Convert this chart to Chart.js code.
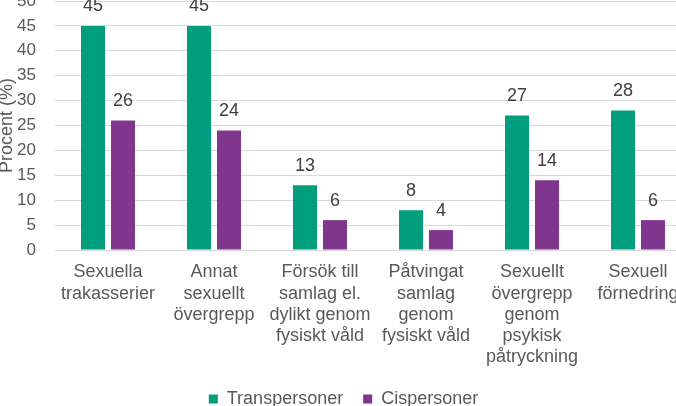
<!DOCTYPE html>
<html>
<head>
<meta charset="utf-8">
<script src="https://cdn.jsdelivr.net/npm/chart.js@4/dist/chart.umd.min.js"></script>
<style>
  html, body { margin: 0; padding: 0; background: #fff; overflow: hidden; }
  #wrap { position: relative; width: 676px; height: 406px; overflow: hidden; }
  #grafico { position: absolute; left: -4px; top: -10px; }
</style>
</head>
<body>
<div id="wrap"><canvas id="grafico" width="700" height="428"></canvas></div>
<script>
const categorias = [
    ["Sexuella", "trakasserier"],
    ["Annat", "sexuellt", "övergrepp"],
    ["Försök till", "samlag el.", "dylikt genom", "fysiskt våld"],
    ["Påtvingat", "samlag", "genom", "fysiskt våld"],
    ["Sexuellt", "övergrepp", "genom", "psykisk", "påtryckning"],
    ["Sexuell", "förnedring"]
];
const trans = [45, 45, 13, 8, 27, 28];
const cis = [26, 24, 6, 4, 14, 6];

const fonte = "'Liberation Sans', Arial, sans-serif";
const cinza = "#595959";

// valores em cima das barras
const rotulos = {
    id: "rotulos",
    afterDatasetsDraw(chart) {
        const ctx = chart.ctx;
        ctx.save();
        ctx.font = "18px " + fonte;
        ctx.fillStyle = "#404040";
        ctx.textAlign = "center";
        ctx.textBaseline = "middle";
        chart.data.datasets.forEach((ds, i) => {
            chart.getDatasetMeta(i).data.forEach((bar, j) => {
                ctx.fillText(ds.data[j], bar.x, bar.y - 19.5);
            });
        });
        ctx.restore();
    }
};

const ctx = document.getElementById("grafico").getContext("2d");
const chart = new Chart(ctx, {
    type: "bar",
    data: {
        labels: categorias,
        datasets: [
            {
                label: "Transpersoner",
                data: trans,
                backgroundColor: "#009E7D",
                categoryPercentage: 0.566,
                barPercentage: 0.8
            },
            {
                label: "Cispersoner",
                data: cis,
                backgroundColor: "#80368C",
                categoryPercentage: 0.566,
                barPercentage: 0.8
            }
        ]
    },
    options: {
        responsive: false,
        animation: false,
        layout: { padding: { top: 11, right: 5, left: 0, bottom: 0 } },
        plugins: {
            tooltip: { enabled: false },
            legend: {
                position: "bottom",
                labels: {
                    boxWidth: 9,
                    boxHeight: 9,
                    padding: 20,
                    color: cinza,
                    font: { family: fonte, size: 18 }
                }
            }
        },
        scales: {
            x: {
                grid: { display: false, drawTicks: false },
                border: { display: true, color: "#d9d9d9" },
                ticks: {
                    color: cinza,
                    font: { family: fonte, size: 18, lineHeight: 1.17 },
                    padding: 12,
                    maxRotation: 0,
                    minRotation: 0,
                    autoSkip: false
                },
                afterFit(scale) { scale.height = 120; }
            },
            y: {
                min: 0,
                max: 50,
                grid: { color: "#d9d9d9", drawTicks: false },
                border: { display: false },
                ticks: {
                    stepSize: 5,
                    autoSkip: false,
                    color: cinza,
                    font: { family: fonte, size: 17, lineHeight: 1.2 },
                    padding: 19
                },
                title: {
                    display: true,
                    text: "Procent (%)",
                    color: cinza,
                    font: { family: fonte, size: 18, lineHeight: 1.2 },
                    padding: 0
                },
                afterFit(scale) {
                    scale.width = 59;
                    scale.paddingTop = 0;
                    scale.paddingBottom = 0;
                }
            }
        }
    },
    plugins: [rotulos]
});
</script>
</body>
</html>
